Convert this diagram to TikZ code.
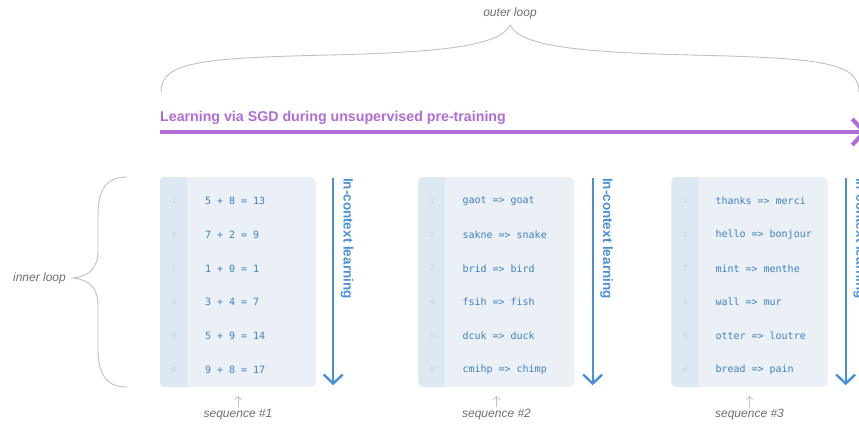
\documentclass[tikz,border=0pt]{standalone}
\usepackage{fontspec}
\setmainfont{Liberation Sans}
\setmonofont{DejaVu Sans Mono}
\usetikzlibrary{calc,positioning,arrows.meta}
\definecolor{sgdpurple}{RGB}{176,108,214}
\definecolor{iclblue}{RGB}{74,144,217}
\definecolor{codeblue}{RGB}{62,128,194}
\definecolor{boxfill}{RGB}{234,240,245}
\definecolor{stripfill}{RGB}{220,232,242}
\definecolor{linegray}{RGB}{196,208,220}
\definecolor{bracegray}{RGB}{192,192,192}
\definecolor{notegray}{RGB}{110,110,110}
\newcommand{\sgdarrowstyle}{-{Straight Barb[length=12pt,width=26pt]}}
\newcommand{\iclarrowstyle}{-{Straight Barb[length=9pt,width=19pt]}}

\begin{document}
\begin{tikzpicture}[
    x=1pt, y=-1pt,
    font=\fontsize{11}{13}\selectfont,
    note/.style={font=\itshape\fontsize{12}{14}\selectfont, text=notegray, inner sep=1pt},
    loopbrace/.style={draw=bracegray, line width=0.9pt, line cap=round},
    seqbox/.style={fill=boxfill, rounded corners=5pt, minimum width=156pt, minimum height=210pt, inner sep=0pt},
    code/.style={font=\ttfamily\fontsize{10}{12}\selectfont, text=codeblue, anchor=west, inner sep=0pt},
    lineno/.style={font=\fontsize{7.5}{8}\selectfont, text=linegray, inner sep=0pt},
    sgd/.style={\sgdarrowstyle, draw=sgdpurple, line width=4pt},
    icl/.style={\iclarrowstyle, draw=iclblue, line width=2.4pt},
    iclabel/.style={font=\bfseries\fontsize{13.5}{15}\selectfont, text=iclblue, rotate=-90, anchor=west, inner sep=0pt},
    tick/.style={-{Straight Barb[length=3pt,width=7pt]}, draw=bracegray, line width=0.7pt, shorten <=1pt, shorten >=9pt}
]
  \useasboundingbox (0,0) rectangle (859,425);
  \clip (0,0) rectangle (859,425);

  \node[note] (outerlbl) at (510,13) {outer loop};
  \draw[loopbrace] (161,92) .. controls (161,62) and (200,58) .. (330,55)
    .. controls (450,52) and (500,45) .. (510,25)
    .. controls (520,45) and (570,52) .. (690,55)
    .. controls (820,58) and (859,62) .. (859,92);

  \node[font=\bfseries\fontsize{14.2}{16}\selectfont, text=sgdpurple, anchor=base west, inner sep=0pt] (sgdtitle) at (160,122) {Learning via SGD during unsupervised pre-training};
  \coordinate (sgdstart) at (160,132);
  \coordinate (sgdend) at (867,132);
  \draw[sgd] (sgdstart) -- (sgdend);

  \node[note, anchor=east] (innerlbl) at (67,278) {inner loop};
  \draw[loopbrace] (127,177) .. controls (106,177) and (98,190) .. (98,215) -- (98,250)
    .. controls (98,268) and (90,276) .. (73,278)
    .. controls (90,280) and (98,288) .. (98,306) -- (98,349)
    .. controls (98,374) and (106,387) .. (127,387);

  \node[seqbox] (seqone) at (238,282) {};
  \node[seqbox] (seqtwo) at (496.5,282) {};
  \node[seqbox] (seqthree) at (749.5,282) {};
  \foreach \b in {seqone,seqtwo,seqthree}{
    \begin{scope}
      \clip[rounded corners=5pt] (\b.north west) rectangle (\b.south east);
      \fill[stripfill] (\b.north west) rectangle ($(\b.south west)+(27,0)$);
    \end{scope}
    \foreach \i in {1,...,6}
      \node[lineno] (\b-no\i) at ($(\b.north west)+(14,-9.8+33.8*\i)$) {\i};
  }

  \foreach \t [count=\i] in {{5 + 8 = 13},{7 + 2 = 9},{1 + 0 = 1},{3 + 4 = 7},{5 + 9 = 14},{9 + 8 = 17}}
    \node[code] (seqone-row\i) at ($(seqone.north west)+(45,-9.8+33.8*\i)$) {\t};
  \foreach \t [count=\i] in {{gaot => goat},{sakne => snake},{brid => bird},{fsih => fish},{dcuk => duck},{cmihp => chimp}}
    \node[code] (seqtwo-row\i) at ($(seqtwo.north west)+(44,-9.8+33.8*\i)$) {\t};
  \foreach \t [count=\i] in {{thanks => merci},{hello => bonjour},{mint => menthe},{wall => mur},{otter => loutre},{bread => pain}}
    \node[code] (seqthree-row\i) at ($(seqthree.north west)+(44,-9.8+33.8*\i)$) {\t};

  \coordinate (ictopone) at ($(seqone.north east)+(17,1)$);
  \coordinate (icbotone) at ($(seqone.south east)+(17,-2)$);
  \draw[icl] (ictopone) -- (icbotone);
  \node[iclabel] (iclone) at ($(ictopone)+(14,0)$) {In-context learning};

  \coordinate (ictoptwo) at ($(seqtwo.north east)+(18,1)$);
  \coordinate (icbottwo) at ($(seqtwo.south east)+(18,-2)$);
  \draw[icl] (ictoptwo) -- (icbottwo);
  \node[iclabel] (icltwo) at ($(ictoptwo)+(14,0)$) {In-context learning};

  \coordinate (ictopthree) at ($(seqthree.north east)+(18,1)$);
  \coordinate (icbotthree) at ($(seqthree.south east)+(18,-2)$);
  \draw[icl] (ictopthree) -- (icbotthree);
  \node[iclabel] (iclthree) at ($(ictopthree)+(14,0)$) {In-context learning};

  \node[note] (seqonelbl) at (238,415) {sequence \#1};
  \node[note] (seqtwolbl) at (496.5,415) {sequence \#2};
  \node[note] (seqthreelbl) at (749.5,415) {sequence \#3};
  \draw[tick] (seqonelbl) -- (seqone);
  \draw[tick] (seqtwolbl) -- (seqtwo);
  \draw[tick] (seqthreelbl) -- (seqthree);
\end{tikzpicture}
\end{document}
